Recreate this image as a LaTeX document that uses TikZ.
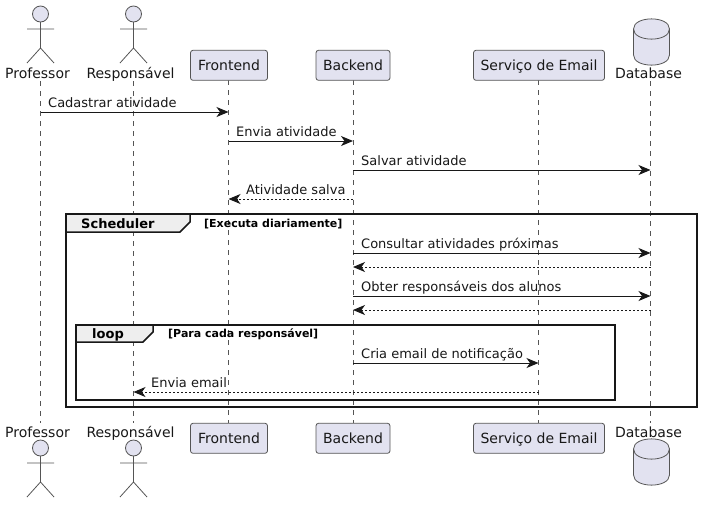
\documentclass[tikz,border=0pt]{standalone}
\usepackage{fontspec}
\setmainfont{DejaVu Sans}
\usepackage{xcolor}
\definecolor{cFill}{HTML}{E2E2F0}
\definecolor{cLine}{HTML}{181818}
\definecolor{cThin}{HTML}{555555}
\definecolor{cTab}{HTML}{EEEEEE}
\usetikzlibrary{positioning,arrows.meta,calc}
\tikzset{
  node-box/.style={draw=cThin,line width=.8pt,fill=cFill,rounded corners=2.5pt,
    minimum height=30pt,inner sep=0pt,text height=12pt,text depth=2pt,
    font=\fontsize{14}{16}\selectfont,text=cLine},
  node-name/.style={anchor=base,inner sep=0pt,font=\fontsize{14}{16}\selectfont,text=cLine},
  node-msg/.style={anchor=base west,inner sep=0pt,font=\fontsize{13}{15}\selectfont,text=cLine},
  node-tab/.style={anchor=base west,inner sep=0pt,font=\fontsize{13}{15}\selectfont\bfseries,text=black},
  node-cond/.style={anchor=base west,inner sep=0pt,font=\fontsize{11}{13}\selectfont\bfseries,text=black},
  arrow/.style={-{Stealth[length=12pt,width=10pt,inset=3.5pt]},line width=1pt,draw=cLine},
  arrow-async/.style={-{Stealth[length=12pt,width=10pt,inset=3.5pt]},line width=1pt,
    dash pattern=on 2pt off 2pt,draw=cLine},
  lifeline/.style={line width=.8pt,dash pattern=on 5pt off 5pt,draw=cThin},
  frame/.style={line width=2pt,draw=cLine},
  frame-tab/.style={line width=1.5pt,draw=cLine,fill=cTab},
  actor/.pic={
    \draw[draw=cThin,line width=.8pt,fill=cFill] (0,14) circle (8);
    \draw[draw=cThin,line width=.8pt] (0,22) -- (0,48) (-13.5,29) -- (13.5,29)
      (-13.5,63) -- (0,48) -- (13.5,63);
  },
  database/.pic={
    \draw[draw=cThin,line width=.8pt,fill=cFill] (-18,0) .. controls (-18,-13.5) and (18,-13.5) .. (18,0)
      -- (18,26) .. controls (18,39.5) and (-18,39.5) .. (-18,26) -- cycle;
    \draw[draw=cThin,line width=.8pt] (-18,0) .. controls (-18,13.5) and (18,13.5) .. (18,0);
  },
}
\begin{document}
\begin{tikzpicture}[x=1pt,y=-1pt]
  \useasboundingbox[fill=white] (0,0) rectangle (702,504);
  % lifeline ends
  \coordinate (prof-top) at (40.5,81);
  \coordinate (prof-bot) at (40.5,423);
  \coordinate (resp-top) at (133.5,81);
  \coordinate (resp-bot) at (133.5,423);
  \coordinate (data-top) at (650.5,81);
  \coordinate (data-bot) at (650.5,423);
  \coordinate (front-top) at (228.5,80);
  \coordinate (front-bot) at (228.5,423);
  \coordinate (back-top) at (353,80);
  \coordinate (back-bot) at (353,423);
  \coordinate (mail-top) at (538.5,80);
  \coordinate (mail-bot) at (538.5,423);
  \draw[lifeline] (prof-top) -- (prof-bot);
  \draw[lifeline] (resp-top) -- (resp-bot);
  \draw[lifeline] (front-top) -- (front-bot);
  \draw[lifeline] (back-top) -- (back-bot);
  \draw[lifeline] (mail-top) -- (mail-bot);
  \draw[lifeline] (data-top) -- (data-bot);
  \node[node-box,minimum width=77pt] (front-a) at (229,65.3) {Frontend};
  \node[node-box,minimum width=74pt] (back-a) at (353,65.3) {Backend};
  \node[node-box,minimum width=131pt] (mail-a) at (539,65.3) {Serviço de Email};
  \node[node-box,minimum width=77pt] (front-b) at (229,438.3) {Frontend};
  \node[node-box,minimum width=74pt] (back-b) at (353,438.3) {Backend};
  \node[node-box,minimum width=131pt] (mail-b) at (539,438.3) {Serviço de Email};
  % actors and database, top and bottom
  \pic at (40.5,0) {actor};
  \pic at (133.5,0) {actor};
  \pic at (40.5,434) {actor};
  \pic at (133.5,434) {actor};
  \pic at (651.5,29) {database};
  \pic at (651.5,449) {database};
  \node[node-name] (prof-a) at (37.5,78) {Professor};
  \node[node-name] (resp-a) at (130.5,78) {Responsável};
  \node[node-name] (data-a) at (648.5,78) {Database};
  \node[node-name] (prof-b) at (37.5,437) {Professor};
  \node[node-name] (resp-b) at (130.5,437) {Responsável};
  \node[node-name] (data-b) at (648.5,437) {Database};
  % message rows
  \coordinate (r1) at (0,112);
  \coordinate (r2) at (0,141);
  \coordinate (r3) at (0,170);
  \coordinate (r4) at (0,199);
  \coordinate (r5) at (0,253);
  \coordinate (r6) at (0,267);
  \coordinate (r7) at (0,296);
  \coordinate (r8) at (0,310);
  \coordinate (r9) at (0,363);
  \coordinate (r10) at (0,392);
  \draw[arrow] (prof-top |- r1) -- (front-top |- r1);
  \draw[arrow] (front-top |- r2) -- (back-top |- r2);
  \draw[arrow] (back-top |- r3) -- (data-top |- r3);
  \draw[arrow-async] (back-top |- r4) -- (front-top |- r4);
  \draw[arrow] (back-top |- r5) -- (data-top |- r5);
  \draw[arrow-async] (data-top |- r6) -- (back-top |- r6);
  \draw[arrow] (back-top |- r7) -- (data-top |- r7);
  \draw[arrow-async] (data-top |- r8) -- (back-top |- r8);
  \draw[arrow] (back-top |- r9) -- (mail-top |- r9);
  \draw[arrow-async] (mail-top |- r10) -- (resp-top |- r10);
  \node[node-msg] (m1) at (48,107) {Cadastrar atividade};
  \node[node-msg] (m2) at (236,136) {Envia atividade};
  \node[node-msg] (m3) at (361,165) {Salvar atividade};
  \node[node-msg] (m4) at (246,194) {Atividade salva};
  \node[node-msg] (m5) at (361,248) {Consultar atividades próximas};
  \node[node-msg] (m7) at (361,291) {Obter responsáveis dos alunos};
  \node[node-msg] (m9) at (361,358) {Cria email de notificação};
  \node[node-msg] (m10) at (151,387) {Envia email};
  % scheduler group
  \draw[frame] (66,214) rectangle (697,407);
  \draw[frame-tab] (66,214) -- (190,214) -- (190,222) -- (180,232) -- (66,232) -- cycle;
  \node[node-tab] (sched) at (81,228) {Scheduler};
  \node[node-cond] (sched-c) at (204,227) {[Executa diariamente]};
  % loop group
  \draw[frame] (76,325) rectangle (615,400);
  \draw[frame-tab] (76,325) -- (153,325) -- (153,332) -- (143,342) -- (76,342) -- cycle;
  \node[node-tab] (loop) at (92,338) {loop};
  \node[node-cond] (loop-c) at (168,337) {[Para cada responsável]};
\end{tikzpicture}
\end{document}
